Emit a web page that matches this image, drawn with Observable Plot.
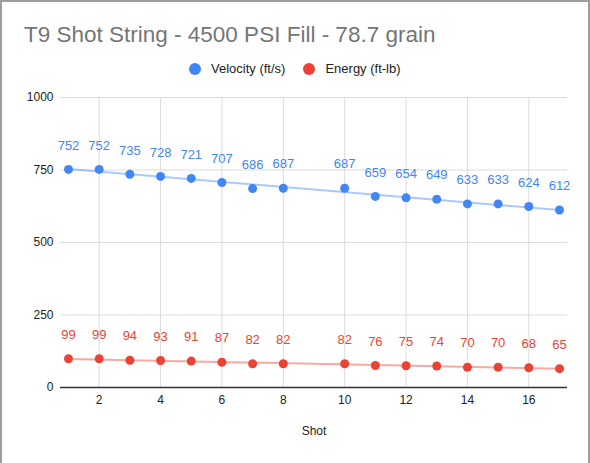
<!DOCTYPE html>
<html>
<head>
<meta charset="utf-8">
<script src="https://cdn.jsdelivr.net/npm/d3@7"></script>
<script src="https://cdn.jsdelivr.net/npm/@observablehq/plot@0.6"></script>
<style>
  html, body { margin: 0; padding: 0; background: #fff; }
  #frame {
    position: relative; width: 590px; height: 463px; box-sizing: border-box;
    border-top: 2px solid #9e9e9e; border-left: 2px solid #9e9e9e; border-right: 2px solid #9e9e9e;
    font-family: "Liberation Sans", Arial, sans-serif; overflow: hidden; background: #fff;
  }
  #title {
    position: absolute; left: 22px; top: 19px; font-size: 22.5px; line-height: 28px;
    color: #757575; white-space: nowrap;
  }
  #legend {
    position: absolute; left: 187px; top: 59px; height: 16px; display: flex; align-items: center;
    font-size: 13px; line-height: 16px; color: #222; white-space: nowrap;
  }
  .sw { width: 12px; height: 12px; border-radius: 50%; display: inline-block; margin-right: 10px; }
  .item { display: flex; align-items: center; margin-right: 18px; }
  #chart { position: absolute; left: -2px; top: 78px; }
</style>
</head>
<body>
<div id="frame">
  <div id="title"></div>
  <div id="legend"></div>
  <div id="chart"></div>
</div>
<script>
const titleText = "T9 Shot String - 4500 PSI Fill - 78.7 grain";
const xLabel = "Shot";
const seriesNames = ["Velocity (ft/s)", "Energy (ft-lb)"];
const seriesColors = ["#4285F4", "#EA4335"];
const shots = [1, 2, 3, 4, 5, 6, 7, 8, 10, 11, 12, 13, 14, 15, 16, 17];
const velocity = [752, 752, 735, 728, 721, 707, 686, 687, 687, 659, 654, 649, 633, 633, 624, 612];
const energy = [99, 99, 94, 93, 91, 87, 82, 82, 82, 76, 75, 74, 70, 70, 68, 65];
const xTicks = [2, 4, 6, 8, 10, 12, 14, 16];
const yTicks = [0, 250, 500, 750, 1000];

document.getElementById("title").textContent = titleText;
const legend = document.getElementById("legend");
seriesNames.forEach((name, i) => {
  const item = document.createElement("div");
  item.className = "item";
  const sw = document.createElement("span");
  sw.className = "sw";
  sw.style.background = seriesColors[i];
  item.appendChild(sw);
  item.appendChild(document.createTextNode(name));
  legend.appendChild(item);
});

const data = [
  ...shots.map((s, i) => ({shot: s, value: velocity[i], series: seriesNames[0]})),
  ...shots.map((s, i) => ({shot: s, value: energy[i], series: seriesNames[1]}))
];
const colorOf = d => seriesColors[seriesNames.indexOf(d.series)];

const plot = Plot.plot({
  width: 588,
  height: 383,
  marginTop: 17,
  marginBottom: 76,
  marginLeft: 60,
  marginRight: 21,
  style: {fontFamily: '"Liberation Sans", Arial, sans-serif', fontSize: "12px", color: "#222", background: "transparent"},
  x: {domain: [1, 17], insetLeft: 8, insetRight: 8},
  y: {domain: [0, 1000]},
  marks: [
    Plot.gridY(yTicks, {stroke: "#dcdcdc", strokeOpacity: 1}),
    Plot.gridX(xTicks, {stroke: "#dcdcdc", strokeOpacity: 1}),
    Plot.axisY(yTicks, {tickSize: 0, tickPadding: 7, label: null, fill: "#222", fontSize: 12, tickFormat: d => String(d)}),
    Plot.axisX(xTicks, {tickSize: 0, tickPadding: 8, label: null, fill: "#222", fontSize: 12, tickFormat: d => String(d)}),
    Plot.ruleY([0], {stroke: "#333", strokeWidth: 1.3}),
    Plot.linearRegressionY(data, {x: "shot", y: "value", z: "series", stroke: colorOf, strokeOpacity: 0.45, strokeWidth: 2, ci: 0}),
    Plot.dot(data, {x: "shot", y: "value", fill: colorOf, r: 4.5}),
    Plot.text(data, {x: "shot", y: "value", text: d => String(d.value), fill: colorOf, dy: -24, fontSize: 13}),
    Plot.text([xLabel], {frameAnchor: "bottom", text: d => d, dy: 47, fill: "#222", fontSize: 12})
  ]
});
document.getElementById("chart").appendChild(plot);
</script>
</body>
</html>
